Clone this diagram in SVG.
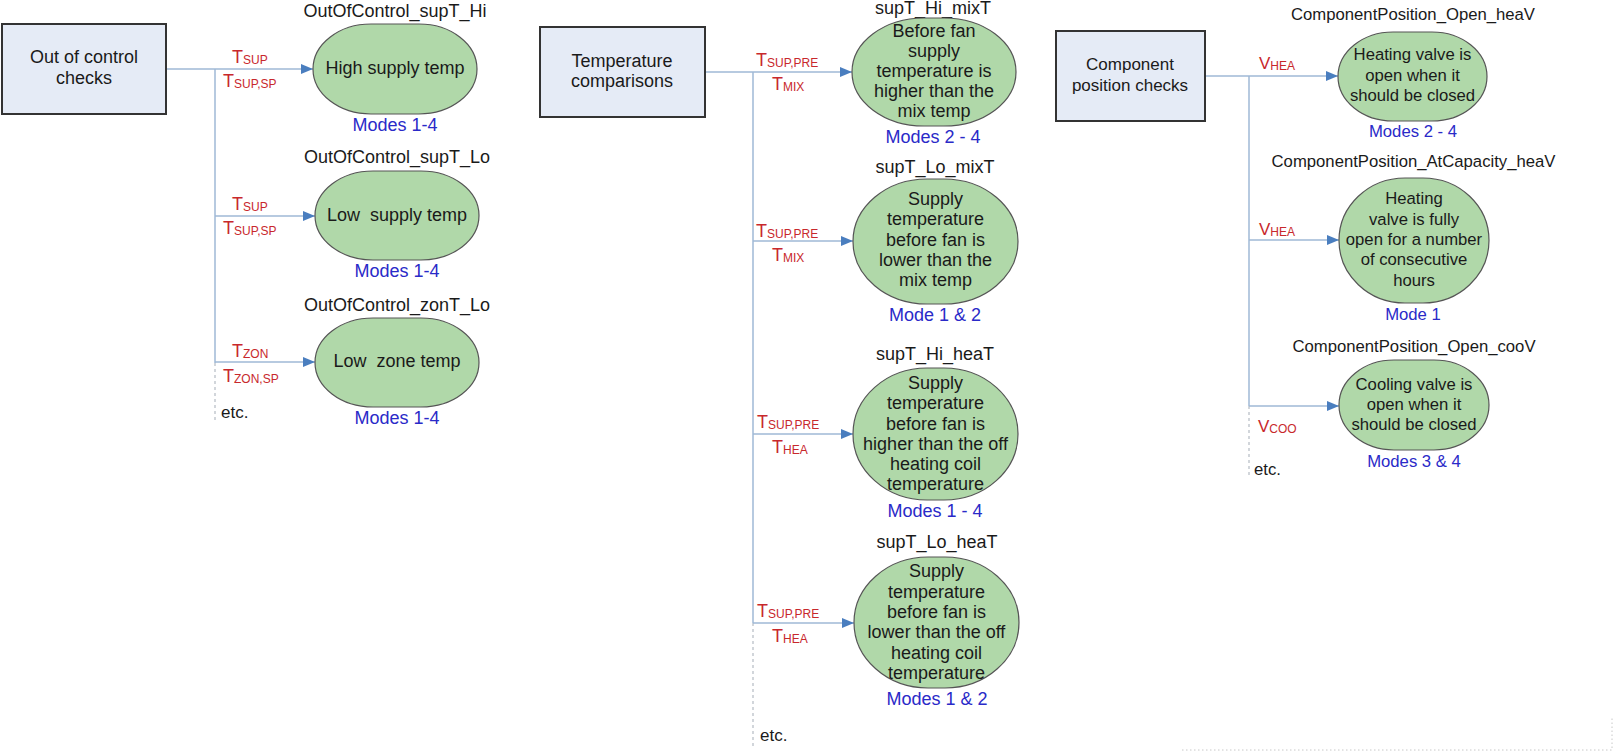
<svg xmlns="http://www.w3.org/2000/svg" width="1617" height="752" viewBox="0 0 1617 752">
  <defs>
    <marker id="arrow" viewBox="0 0 12 10" refX="12" refY="5" markerWidth="12" markerHeight="10" markerUnits="userSpaceOnUse" orient="auto">
      <path d="M0,0 L12,5 L0,10 Z" fill="#4a7ebf"/>
    </marker>
    <style>
      text { font-family: "Liberation Sans", Arial, sans-serif; fill: #1a1a1a; }
      .group-box { fill: #e5ebf6; stroke: #333; stroke-width: 2; }
      .check { fill: #b0d8a9; stroke: #555; stroke-width: 1.2; }
      .box-text { font-size: 18px; text-anchor: middle; }
      .box-text-s { font-size: 17px; text-anchor: middle; }
      .name { font-size: 18px; text-anchor: middle; }
      .name-s { font-size: 16.7px; text-anchor: middle; }
      .body { font-size: 18px; text-anchor: middle; white-space: pre; }
      .body-s { font-size: 16.7px; text-anchor: middle; }
      .modes { font-size: 18px; text-anchor: middle; fill: #2a2ac8; }
      .modes-s { font-size: 16.7px; text-anchor: middle; fill: #2a2ac8; }
      .sig { font-size: 18px; fill: #c8282c; }
      .sig-s { font-size: 17px; fill: #c8282c; }
      .sub { font-size: 12px; }
      .wire { fill: none; stroke: #9fb8d6; stroke-width: 1.5; }
      .arrow { fill: none; stroke: #9fb8d6; stroke-width: 1.5; marker-end: url(#arrow); }
      .more { fill: none; stroke: #c4c9cf; stroke-width: 1.5; stroke-dasharray: 3 3; }
      .edge { fill: none; stroke: #c8c8c8; stroke-width: 1; stroke-dasharray: 1.5 2.5; }
    </style>
  </defs>

  <!-- connectors -->
  <g id="connectors">
    <!-- out of control group -->
    <line class="arrow" x1="166" y1="69" x2="313" y2="69"/>
    <line class="wire" x1="215" y1="69" x2="215" y2="363"/>
    <line class="more" x1="215" y1="363" x2="215" y2="423"/>
    <line class="arrow" x1="215" y1="216" x2="315" y2="216"/>
    <line class="arrow" x1="215" y1="362" x2="315" y2="362"/>
    <!-- temperature comparisons group -->
    <line class="arrow" x1="705" y1="72" x2="852" y2="72"/>
    <line class="wire" x1="753" y1="72" x2="753" y2="623"/>
    <line class="more" x1="753" y1="623" x2="753" y2="748"/>
    <line class="arrow" x1="753" y1="241" x2="853" y2="241"/>
    <line class="arrow" x1="753" y1="434" x2="853" y2="434"/>
    <line class="arrow" x1="753" y1="623" x2="854" y2="623"/>
    <!-- component position group -->
    <line class="arrow" x1="1205" y1="76" x2="1338" y2="76"/>
    <line class="wire" x1="1249" y1="76" x2="1249" y2="406"/>
    <line class="more" x1="1249" y1="406" x2="1249" y2="477"/>
    <line class="arrow" x1="1249" y1="240" x2="1339" y2="240"/>
    <line class="arrow" x1="1249" y1="406" x2="1339" y2="406"/>
  </g>

  <!-- signal labels on the connectors -->
  <g id="signals">
    <text class="sig" x="232" y="63">T<tspan class="sub" dy="1">SUP</tspan></text>
    <text class="sig" x="223" y="87">T<tspan class="sub" dy="1">SUP,SP</tspan></text>
    <text class="sig" x="232" y="210">T<tspan class="sub" dy="1">SUP</tspan></text>
    <text class="sig" x="223" y="234">T<tspan class="sub" dy="1">SUP,SP</tspan></text>
    <text class="sig" x="232" y="357">T<tspan class="sub" dy="1">ZON</tspan></text>
    <text class="sig" x="223" y="382">T<tspan class="sub" dy="1">ZON,SP</tspan></text>
    <text x="221" y="418" font-size="17">etc.</text>

    <text class="sig" x="756" y="66">T<tspan class="sub" dy="1">SUP,PRE</tspan></text>
    <text class="sig" x="772" y="90">T<tspan class="sub" dy="1">MIX</tspan></text>
    <text class="sig" x="756" y="237">T<tspan class="sub" dy="1">SUP,PRE</tspan></text>
    <text class="sig" x="772" y="261">T<tspan class="sub" dy="1">MIX</tspan></text>
    <text class="sig" x="757" y="428">T<tspan class="sub" dy="1">SUP,PRE</tspan></text>
    <text class="sig" x="772" y="453">T<tspan class="sub" dy="1">HEA</tspan></text>
    <text class="sig" x="757" y="617">T<tspan class="sub" dy="1">SUP,PRE</tspan></text>
    <text class="sig" x="772" y="642">T<tspan class="sub" dy="1">HEA</tspan></text>
    <text x="760" y="741" font-size="17">etc.</text>

    <text class="sig-s" x="1259" y="69">V<tspan class="sub" dy="1">HEA</tspan></text>
    <text class="sig-s" x="1259" y="235">V<tspan class="sub" dy="1">HEA</tspan></text>
    <text class="sig-s" x="1258" y="432">V<tspan class="sub" dy="1">COO</tspan></text>
    <text x="1254" y="475" font-size="16.7">etc.</text>
  </g>

  <!-- group headers -->
  <g id="out-of-control">
    <rect class="group-box" x="2" y="24" width="164" height="90"/>
    <text class="box-text" x="84" y="63">Out of control</text>
    <text class="box-text" x="84" y="84">checks</text>
  </g>
  <g id="temperature-comparisons">
    <rect class="group-box" x="540" y="27" width="165" height="90"/>
    <text class="box-text" x="622" y="67">Temperature</text>
    <text class="box-text" x="622" y="87">comparisons</text>
  </g>
  <g id="component-position">
    <rect class="group-box" x="1056" y="31" width="149" height="90"/>
    <text class="box-text-s" x="1130" y="70">Component</text>
    <text class="box-text-s" x="1130" y="91">position checks</text>
  </g>

  <!-- out of control checks -->
  <g id="outofcontrol-supT-hi">
    <text class="name" x="395" y="17">OutOfControl_supT_Hi</text>
    <rect class="check" x="313" y="24" width="164" height="90" rx="58" ry="45"/>
    <text class="body" x="395" y="74">High supply temp</text>
    <text class="modes" x="395" y="131">Modes 1-4</text>
  </g>
  <g id="outofcontrol-supT-lo">
    <text class="name" x="397" y="163">OutOfControl_supT_Lo</text>
    <rect class="check" x="315" y="171" width="164" height="89" rx="58" ry="44.5"/>
    <text class="body" x="397" y="221">Low  supply temp</text>
    <text class="modes" x="397" y="277">Modes 1-4</text>
  </g>
  <g id="outofcontrol-zonT-lo">
    <text class="name" x="397" y="311">OutOfControl_zonT_Lo</text>
    <rect class="check" x="315" y="318" width="164" height="89" rx="58" ry="44.5"/>
    <text class="body" x="397" y="367">Low  zone temp</text>
    <text class="modes" x="397" y="424">Modes 1-4</text>
  </g>

  <!-- temperature comparison checks -->
  <g id="supT-hi-mixT">
    <text class="name" x="933" y="14">supT_Hi_mixT</text>
    <rect class="check" x="852" y="18" width="164" height="108" rx="72" ry="54"/>
    <text class="body" x="934" y="37">Before fan</text>
    <text class="body" x="934" y="57">supply</text>
    <text class="body" x="934" y="77">temperature is</text>
    <text class="body" x="934" y="97">higher than the</text>
    <text class="body" x="934" y="117">mix temp</text>
    <text class="modes" x="933" y="143">Modes 2 - 4</text>
  </g>
  <g id="supT-lo-mixT">
    <text class="name" x="935" y="173">supT_Lo_mixT</text>
    <rect class="check" x="853" y="179" width="165" height="125" rx="74" ry="62.5"/>
    <text class="body" x="935.5" y="205">Supply</text>
    <text class="body" x="935.5" y="225">temperature</text>
    <text class="body" x="935.5" y="246">before fan is</text>
    <text class="body" x="935.5" y="266">lower than the</text>
    <text class="body" x="935.5" y="286">mix temp</text>
    <text class="modes" x="935" y="321">Mode 1 &amp; 2</text>
  </g>
  <g id="supT-hi-heaT">
    <text class="name" x="935" y="360">supT_Hi_heaT</text>
    <rect class="check" x="853" y="368" width="165" height="132" rx="74" ry="66"/>
    <text class="body" x="935.5" y="389">Supply</text>
    <text class="body" x="935.5" y="409">temperature</text>
    <text class="body" x="935.5" y="429.5">before fan is</text>
    <text class="body" x="935.5" y="450">higher than the off</text>
    <text class="body" x="935.5" y="470">heating coil</text>
    <text class="body" x="935.5" y="490">temperature</text>
    <text class="modes" x="935" y="517">Modes 1 - 4</text>
  </g>
  <g id="supT-lo-heaT">
    <text class="name" x="937" y="548">supT_Lo_heaT</text>
    <rect class="check" x="854" y="557" width="165" height="131" rx="74" ry="65.5"/>
    <text class="body" x="936.5" y="577">Supply</text>
    <text class="body" x="936.5" y="597.5">temperature</text>
    <text class="body" x="936.5" y="618">before fan is</text>
    <text class="body" x="936.5" y="638">lower than the off</text>
    <text class="body" x="936.5" y="658.5">heating coil</text>
    <text class="body" x="936.5" y="679">temperature</text>
    <text class="modes" x="937" y="705">Modes 1 &amp; 2</text>
  </g>

  <!-- component position checks -->
  <g id="componentposition-open-heaV">
    <text class="name-s" x="1413" y="20">ComponentPosition_Open_heaV</text>
    <rect class="check" x="1338" y="32" width="149" height="89" rx="55" ry="44.5"/>
    <text class="body-s" x="1412.5" y="60">Heating valve is</text>
    <text class="body-s" x="1412.5" y="81">open when it</text>
    <text class="body-s" x="1412.5" y="101">should be closed</text>
    <text class="modes-s" x="1413" y="137">Modes 2 - 4</text>
  </g>
  <g id="componentposition-atcapacity-heaV">
    <text class="name-s" x="1413.5" y="167">ComponentPosition_AtCapacity_heaV</text>
    <rect class="check" x="1339" y="178" width="150" height="125" rx="66" ry="62.5"/>
    <text class="body-s" x="1414" y="204">Heating</text>
    <text class="body-s" x="1414" y="225">valve is fully</text>
    <text class="body-s" x="1414" y="245">open for a number</text>
    <text class="body-s" x="1414" y="265">of consecutive</text>
    <text class="body-s" x="1414" y="286">hours</text>
    <text class="modes-s" x="1413" y="320">Mode 1</text>
  </g>
  <g id="componentposition-open-cooV">
    <text class="name-s" x="1414" y="352">ComponentPosition_Open_cooV</text>
    <rect class="check" x="1339" y="360" width="150" height="90" rx="55" ry="45"/>
    <text class="body-s" x="1414" y="390">Cooling valve is</text>
    <text class="body-s" x="1414" y="410">open when it</text>
    <text class="body-s" x="1414" y="430">should be closed</text>
    <text class="modes-s" x="1414" y="467">Modes 3 &amp; 4</text>
  </g>

  <!-- faint page edge, lower right -->
  <path class="edge" d="M1182,750 H1612 V717"/>
</svg>
